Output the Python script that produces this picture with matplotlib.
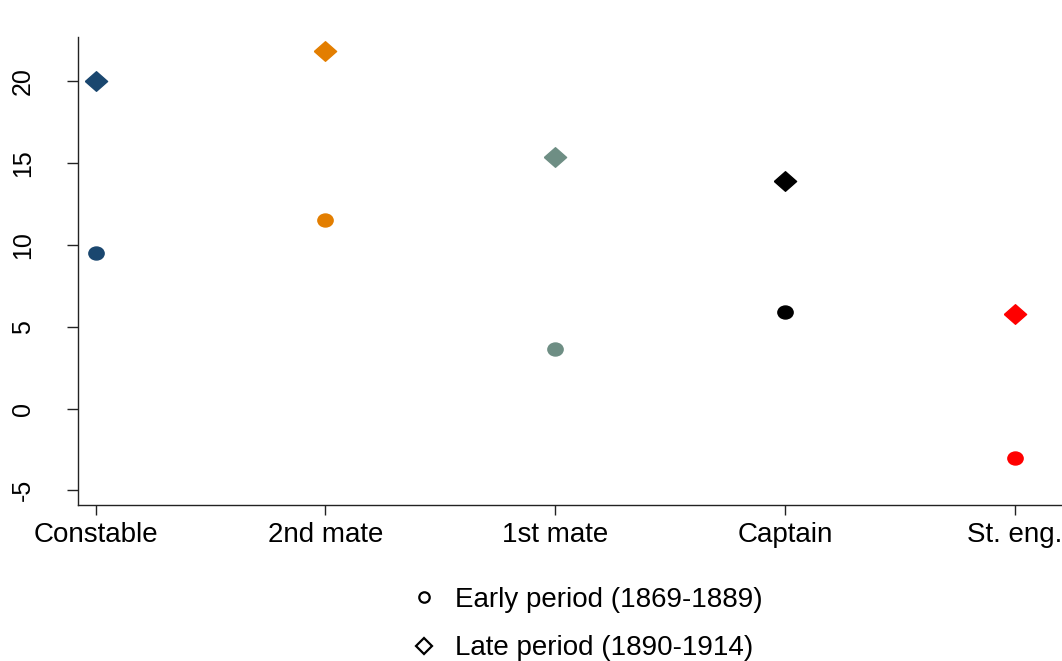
import matplotlib
matplotlib.use("Agg")
import matplotlib.pyplot as plt
from matplotlib.lines import Line2D
from matplotlib.path import Path
from matplotlib.transforms import Affine2D

# --- data ---
categories = ["Constable", "2nd mate", "1st mate", "Captain", "St. eng."]
early = [9.49, 11.53, 3.64, 5.88, -3.05]   # 1869-1889
late = [20.05, 21.88, 15.36, 13.93, 5.76]  # 1890-1914
colors = ["#1a476f", "#e37e00", "#6e8e84", "#000000", "#ff0000"]
yticks = [-5, 0, 5, 10, 15, 20]

plt.rcParams["font.family"] = ["Liberation Sans", "DejaVu Sans"]

fig = plt.figure(figsize=(10.62, 6.61), dpi=100)
ax = fig.add_axes([0.0734, 0.236, 0.9266, 0.708])

# slightly wide dot and diamond, as in the stata export
dot = Path.unit_circle().transformed(Affine2D().scale(1, 0.85))
diamond = [(-1, 0), (0, 0.88), (1, 0), (0, -0.88), (-1, 0)]

for i, c in enumerate(colors):
    ax.plot(i, early[i], marker=dot, ms=11, color=c, ls="none")
    ax.plot(i, late[i], marker=diamond, ms=16, color=c, ls="none")

ax.set_xlim(-0.077, 4.205)
ax.set_ylim(-5.9, 22.72)
ax.set_xticks(range(len(categories)))
ax.set_xticklabels(categories, fontsize=20)
ax.set_yticks(yticks)
ax.set_yticklabels([str(t) for t in yticks], fontsize=18, rotation=90, va="center")
ax.tick_params(axis="x", length=7.5, width=1, colors="#222222", labelcolor="black", pad=5)
ax.tick_params(axis="y", length=8, width=1, colors="#222222", labelcolor="black", pad=23)

for s in ["top", "right"]:
    ax.spines[s].set_visible(False)
for s in ["left", "bottom"]:
    ax.spines[s].set_linewidth(1)
    ax.spines[s].set_color("#222222")

handles = [
    Line2D([], [], marker="o", ms=7.5, mfc="none", mec="black", mew=1.6, ls="none"),
    Line2D([], [], marker="D", ms=8, mfc="none", mec="black", mew=1.6, ls="none"),
]
fig.legend(handles, ["Early period (1869-1889)", "Late period (1890-1914)"],
           loc="upper center", bbox_to_anchor=(0.552, 1 - 562 / 661),
           frameon=False, fontsize=20, labelspacing=0.8,
           handlelength=1.0, handletextpad=0.6)

fig.savefig("out.png", dpi=100, facecolor="white")
